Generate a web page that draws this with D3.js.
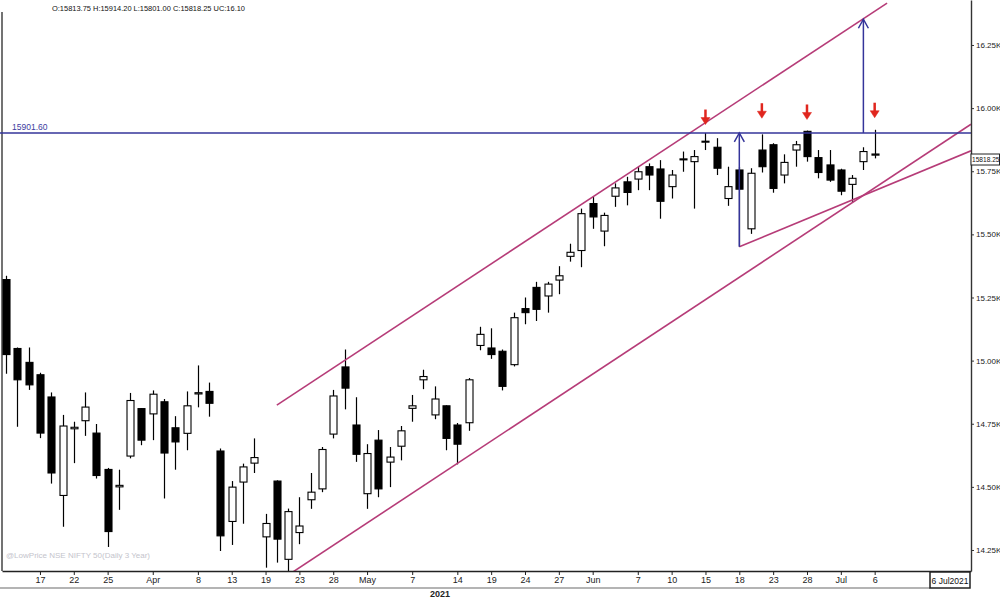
<!DOCTYPE html>
<html>
<head>
<meta charset="utf-8">
<script src="https://cdn.jsdelivr.net/npm/d3@7"></script>
<style>
    body { margin: 0; background: #fff; }
    svg { display: block; font-family: "Liberation Sans", Arial, sans-serif; }
</style>
</head>
<body>
<div id="container"></div>
<script>

// NSE trading days on the chart (2021)
const days = ["03-12","03-15","03-16","03-17","03-18","03-19","03-22","03-23","03-24","03-25","03-26","03-30","03-31",
    "04-01","04-05","04-06","04-07","04-08","04-09","04-12","04-13","04-15","04-16","04-19","04-20","04-22","04-23","04-26","04-27","04-28","04-29","04-30",
    "05-03","05-04","05-05","05-06","05-07","05-10","05-11","05-12","05-14","05-17","05-18","05-19","05-20","05-21","05-24","05-25","05-26","05-27","05-28","05-31",
    "06-01","06-02","06-03","06-04","06-07","06-08","06-09","06-10","06-11","06-14","06-15","06-16","06-17","06-18","06-21","06-22","06-23","06-24","06-25","06-28","06-29","06-30",
    "07-01","07-02","07-05","07-06"]

const opens = [15321,15048,14993,14944,14856,14466,14730,14762,14713,14569,14500,14622,14810,
    14789,14837,14734,14712,14868,14878,14642,14363,14519,14594,14302,14523,14213,14319,14449,14492,14709,14975,14745,
    14473,14685,14598,14661,14811,14924,14785,14821,14745,14754,15060,15050,15037,14984,15206,15290,15256,15319,15413,15436,
    15622,15513,15651,15708,15719,15768,15759,15689,15796,15788,15866,15845,15642,15755,15522,15834,15855,15735,15834,15908,15804,15775,
    15755,15698,15788,15813.75]

const highs = [15336,15052,15052,14952,14874,14785,14758,14874,14749,14575,14568,14872,14812,
    14882,14848,14780,14878,14981,14913,14652,14523,14592,14692,14393,14526,14414,14459,14555,14658,14884,15044,14855,
    14669,14725,14658,14741,14864,14964,14898,14823,14753,14931,15134,15128,15044,15190,15250,15312,15312,15374,15463,15602,
    15649,15586,15702,15728,15768,15781,15794,15755,15828,15834,15901.6,15881,15768,15768,15762,15896,15861,15817,15870,15911,15834,15834,
    15760,15735,15845,15914.2]

const lows = [14948,14738,14884,14693,14513,14342,14594,14702,14533,14262,14409,14613,14665,
    14685,14454,14568,14645,14815,14778,14246,14270,14354,14555,14180,14200,14151,14273,14413,14479,14692,14807,14599,
    14413,14459,14499,14605,14758,14887,14768,14645,14589,14722,15041,15007,14882,14977,15144,15157,15190,15263,15392,15370,
    15522,15453,15609,15615,15675,15675,15562,15642,15748,15602,15834,15735,15613,15451,15502,15745,15665,15702,15768,15788,15722,15708,
    15655,15629,15755,15801]

const closes = [15024,14924,14904,14713,14555,14741,14736,14816,14545,14323,14506,14842,14685,
    14867,14634,14678,14821,14873,14831,14306,14499,14579,14616,14355,14293,14402,14345,14479,14648,14860,14891,14629,
    14632,14492,14618,14722,14821,14937,14848,14692,14669,14924,15104,15024,14898,15170,15190,15203,15303,15336,15429,15582,
    15569,15575,15684,15666,15748,15735,15631,15735,15799,15808,15869,15762,15689,15679,15742,15768,15682,15785,15855,15808,15745,15715,
    15671,15722,15828,15818.25]

// x axis ticks
const tickDays = ["03-17","03-22","03-25","04-01","04-08","04-13","04-19","04-23","04-28","05-03","05-07","05-14","05-19","05-24","05-27","06-01","06-07","06-10","06-15","06-18","06-23","06-28","07-01","07-06"]
const tickLabels = ["17","22","25","Apr","8","13","19","23","28","May","7","14","19","24","27","Jun","7","10","15","18","23","28","Jul","6"]

// y axis ticks
const priceTicks = [14250,14500,14750,15000,15250,15500,15750,16000,16250]

// drawn studies: [day index, price]
const resistance = 15901.60
const upperChannel = [[24.0, 14824], [78.1, 16416]]
const lowerChannel = [[25.46, 14164], [85.54, 15936]]
const triangleLine = [[65, 15451], [85.54, 15831]]
const blueArrows = [[65, 15451, 15901.6], [76, 15901.6, 16352]]
const redArrowDays = ["06-15","06-22","06-28","07-06"]
const redArrowTips = [15935, 15960, 15955, 15962]

let width = 1000
let height = 600
let plotLeft = 2, plotRight = 971, plotBottom = 571

let data = days.map((d, i) => ({i: i, day: d, open: opens[i], high: highs[i], low: lows[i], close: closes[i]}))
let last = data[data.length - 1]

let svg = d3.select("#container")
    .append("svg")
    .attr("width", width)
    .attr("height", height)

let x = d3.scaleLinear()
    .domain([-0.365, 85.54])
    .range([plotLeft, plotRight])

let y = d3.scaleLinear()
    .domain([14166.8, 16428.2])
    .range([plotBottom, 0])

svg.append("clipPath").attr("id", "plot")
    .append("rect")
    .attr("x", plotLeft).attr("y", 0)
    .attr("width", plotRight - plotLeft).attr("height", plotBottom)

// header with last bar values
svg.append("text")
    .attr("x", 52).attr("y", 11)
    .attr("font-size", 8)
    .attr("fill", "#111")
    .attr("textLength", 193)
    .attr("lengthAdjust", "spacingAndGlyphs")
    .text(`O:${last.open.toFixed(2)} H:${last.high.toFixed(2)} L:${last.low.toFixed(2)} C:${last.close.toFixed(2)} UC:16.10`)

// left frame
svg.append("line")
    .attr("x1", plotLeft).attr("x2", plotLeft)
    .attr("y1", 12).attr("y2", plotBottom)
    .attr("stroke", "#444").attr("stroke-width", 1.5)

// watermark
svg.append("text")
    .attr("x", 6).attr("y", 558)
    .attr("font-size", 8)
    .attr("fill", "#c4c4cc")
    .text("@LowPrice NSE NIFTY 50(Daily 3 Year)")

let plot = svg.append("g").attr("clip-path", "url(#plot)")

// candles
let bw = 7
let candles = plot.append("g")
    .selectAll("g")
    .data(data)
    .join("g")

candles.append("line")
    .attr("x1", d => Math.round(x(d.i)) + 0.5)
    .attr("x2", d => Math.round(x(d.i)) + 0.5)
    .attr("y1", d => y(d.high))
    .attr("y2", d => y(d.low))
    .attr("stroke", "#000")
    .attr("stroke-width", 1.2)

candles.append("rect")
    .attr("x", d => Math.round(x(d.i)) + 0.5 - bw / 2)
    .attr("y", d => y(Math.max(d.open, d.close)))
    .attr("width", bw)
    .attr("height", d => Math.max(1, Math.abs(y(d.open) - y(d.close))))
    .attr("fill", d => d.close >= d.open ? "#fff" : "#000")
    .attr("stroke", "#000")
    .attr("stroke-width", 1.1)

// trend lines
let line = d3.line().x(d => x(d[0])).y(d => y(d[1]))

plot.append("g")
    .selectAll("path")
    .data([upperChannel, lowerChannel, triangleLine])
    .join("path")
    .attr("d", line)
    .attr("fill", "none")
    .attr("stroke", "#b63c78")
    .attr("stroke-width", 1.6)

// resistance line
let blue = "#34349a"
svg.append("line")
    .attr("x1", 0).attr("x2", plotRight)
    .attr("y1", y(resistance)).attr("y2", y(resistance))
    .attr("stroke", blue).attr("stroke-width", 1.5)

svg.append("text")
    .attr("x", 12).attr("y", y(resistance) - 3)
    .attr("font-size", 8.5)
    .attr("fill", "#3c3ca0")
    .text(resistance.toFixed(2))

// blue measuring arrows
let ba = plot.append("g")
    .selectAll("g")
    .data(blueArrows)
    .join("g")
    .attr("stroke", blue)
    .attr("stroke-width", 1.5)
    .attr("fill", "none")

ba.append("line")
    .attr("x1", d => x(d[0])).attr("x2", d => x(d[0]))
    .attr("y1", d => y(d[1])).attr("y2", d => y(d[2]))

ba.append("path")
    .attr("d", d => `M${x(d[0]) - 5},${y(d[2]) + 9}L${x(d[0])},${y(d[2])}L${x(d[0]) + 5},${y(d[2]) + 9}`)

// red arrows over the tops
let ra = plot.append("g")
    .selectAll("g")
    .data(redArrowDays.map((d, k) => ({i: days.indexOf(d), tip: redArrowTips[k]})))
    .join("g")
    .attr("fill", "#e0261e")
    .attr("stroke", "#e0261e")

ra.append("line")
    .attr("x1", d => x(d.i)).attr("x2", d => x(d.i))
    .attr("y1", d => y(d.tip) - 15).attr("y2", d => y(d.tip) - 5)
    .attr("stroke-width", 2.5)

ra.append("path")
    .attr("stroke-width", 0.5)
    .attr("d", d => `M${x(d.i) - 4.5},${y(d.tip) - 7}L${x(d.i) + 4.5},${y(d.tip) - 7}L${x(d.i)},${y(d.tip)}Z`)

// bottom axis
let xAxis = svg.append("g")
    .attr("transform", `translate(0,${plotBottom})`)
    .call(d3.axisBottom(x)
        .tickValues(tickDays.map(d => days.indexOf(d)))
        .tickFormat((d, k) => tickLabels[k])
        .tickSize(4).tickSizeOuter(0).tickPadding(2))

xAxis.select(".domain").attr("stroke", "#222").attr("stroke-width", 1.6)
xAxis.selectAll(".tick line").attr("stroke", "#222")
xAxis.selectAll("text")
    .attr("font-family", "Liberation Sans, Arial, sans-serif")
    .attr("font-size", 9)
    .attr("fill", "#222")

// right axis
let yAxis = svg.append("g")
    .attr("transform", `translate(${plotRight},0)`)
    .call(d3.axisRight(y)
        .tickValues(priceTicks)
        .tickFormat(d => (d / 1000).toFixed(2) + "K")
        .tickSize(3).tickSizeOuter(0).tickPadding(2))

yAxis.select(".domain").attr("stroke", "#333").attr("stroke-width", 1.4)
yAxis.selectAll(".tick line").attr("stroke", "#333")
yAxis.selectAll("text")
    .attr("font-family", "Liberation Sans, Arial, sans-serif")
    .attr("font-size", 8)
    .attr("fill", "#222")

// last price box
let py = y(last.close)
svg.append("rect")
    .attr("x", plotRight).attr("y", py)
    .attr("width", 28.5).attr("height", 11)
    .attr("fill", "#fff")
    .attr("stroke", "#222").attr("stroke-width", 1)
svg.append("text")
    .attr("x", plotRight + 1).attr("y", py + 8.3)
    .attr("font-size", 6.6)
    .attr("fill", "#111")
    .text(last.close.toFixed(2))

// time bar under the axis
svg.append("line")
    .attr("x1", 0).attr("x2", 930)
    .attr("y1", 588).attr("y2", 588)
    .attr("stroke", "#b4b4b4").attr("stroke-width", 2)

svg.append("rect")
    .attr("x", 930).attr("y", 572)
    .attr("width", 40).attr("height", 16)
    .attr("fill", "#fff")
    .attr("stroke", "#222").attr("stroke-width", 1.5)
svg.append("text")
    .attr("x", 950).attr("y", 583.5)
    .attr("text-anchor", "middle")
    .attr("font-size", 8.5)
    .attr("fill", "#111")
    .text("6 Jul2021")

svg.append("text")
    .attr("x", 440).attr("y", 597)
    .attr("text-anchor", "middle")
    .attr("font-size", 9)
    .attr("font-weight", "bold")
    .attr("fill", "#222")
    .text("2021")

</script>
</body>
</html>
